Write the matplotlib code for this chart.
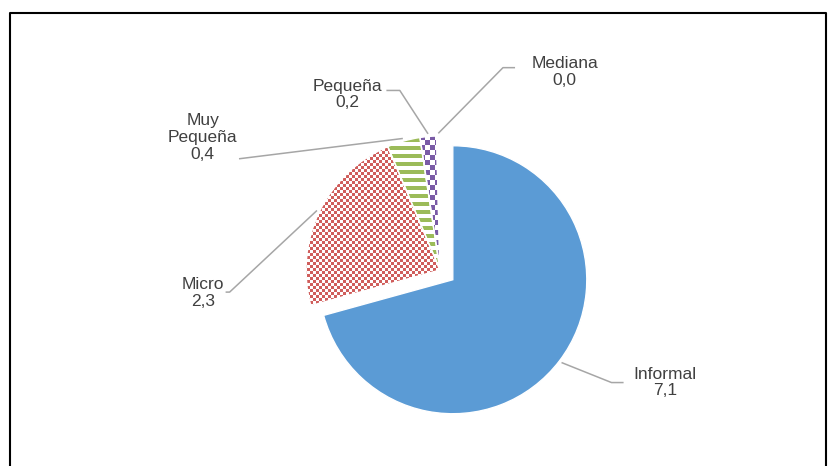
import numpy as np
import matplotlib.pyplot as plt
from matplotlib.colors import to_rgb
from matplotlib.lines import Line2D

plt.rcParams['font.family'] = ['Liberation Sans', 'DejaVu Sans']

# Empresas por tamaño (millones)
CATEGORIES = ['Informal', 'Micro', 'Muy\nPequeña', 'Pequeña', 'Mediana']
VALUES = [7.1, 2.3, 0.4, 0.2, 0.04]
EXPLODE = [0.12, 0, 0, 0, 0]

BLUE = '#5B9BD5'
RED = '#D05E5C'
GREEN = '#9BBB59'
PURPLE = '#7A5BA6'
TEXT_COLOR = '#404040'
LEADER_COLOR = '#A6A6A6'

# fills: (kind, colour, cell size in px)
FILLS = [('solid', BLUE, 0),
         ('checker', RED, 3),
         ('hstripe', GREEN, 4),
         ('checker', PURPLE, 5),
         ('blank', 'white', 0)]

# label layout in data units (pie radius = 1): text centre, elbow, line end
LABELS = {
    'Informal': ((1.68, -0.84), (1.28, -0.84), (1.37, -0.84)),
    'Micro': ((-1.77, -0.17), (-1.57, -0.165), (-1.60, -0.165)),
    'Muy\nPequeña': ((-1.77, 0.99), (-1.50, 0.83), (-1.50, 0.83)),
    'Pequeña': ((-0.69, 1.31), (-0.30, 1.34), (-0.40, 1.34)),
    'Mediana': ((0.93, 1.48), (0.47, 1.51), (0.56, 1.51)),
}

PX = 134            # pixels per data unit
CX, CY = 440, 270   # pie centre in pixels
W, H = 832, 466


def pattern(kind, color, cell, n=320):
    yy, xx = np.mgrid[0:n, 0:n]
    rgba = np.ones((n, n, 4))
    if kind == 'checker':
        mask = ((xx // cell) + (yy // cell)) % 2 == 0
    elif kind == 'hstripe':
        mask = (yy // cell) % 2 == 0
    elif kind == 'solid':
        mask = np.ones((n, n), bool)
    else:
        mask = np.zeros((n, n), bool)
    rgba[mask, :3] = to_rgb(color)
    return rgba


fig = plt.figure(figsize=(W / 100, H / 100), dpi=100)
ax = fig.add_axes([0, 0, 1, 1])

wedges, _ = ax.pie(VALUES, explode=EXPLODE, startangle=90, counterclock=False,
                   wedgeprops=dict(facecolor='none', edgecolor='white', linewidth=1))

half = 160 / PX
for w, (kind, color, cell) in zip(wedges, FILLS):
    img = ax.imshow(pattern(kind, color, cell), extent=(-half, half, -half, half),
                    origin='lower', interpolation='nearest', zorder=0.5)
    img.set_clip_path(w)

for w, name, val in zip(wedges, CATEGORIES, VALUES):
    (tx, ty), elbow, end = LABELS[name]
    mid = np.deg2rad((w.theta1 + w.theta2) / 2)
    ex = w.center[0] + 1.02 * w.r * np.cos(mid)
    ey = w.center[1] + 1.02 * w.r * np.sin(mid)
    ax.plot([ex, elbow[0], end[0]], [ey, elbow[1], end[1]],
            color=LEADER_COLOR, lw=1.1, solid_capstyle='butt')
    label = f'{name}\n{val:.1f}'.replace('.', ',')
    ax.text(tx, ty, label, ha='center', va='center', fontsize=12.5,
            color=TEXT_COLOR, linespacing=1.15)

ax.set_xlim(-CX / PX, (W - CX) / PX)
ax.set_ylim(-(H - CY) / PX, CY / PX)
ax.set_aspect('equal')
ax.axis('off')

# chart frame (bottom edge falls outside the image)
x0, x1 = 10 / W, 826 / W
y1 = 1 - 13 / H
fig.add_artist(Line2D([x0, x0, x1, x1], [-0.01, y1, y1, -0.01],
                      color='black', lw=1.5, transform=fig.transFigure))

fig.savefig('out.png', dpi=100)
